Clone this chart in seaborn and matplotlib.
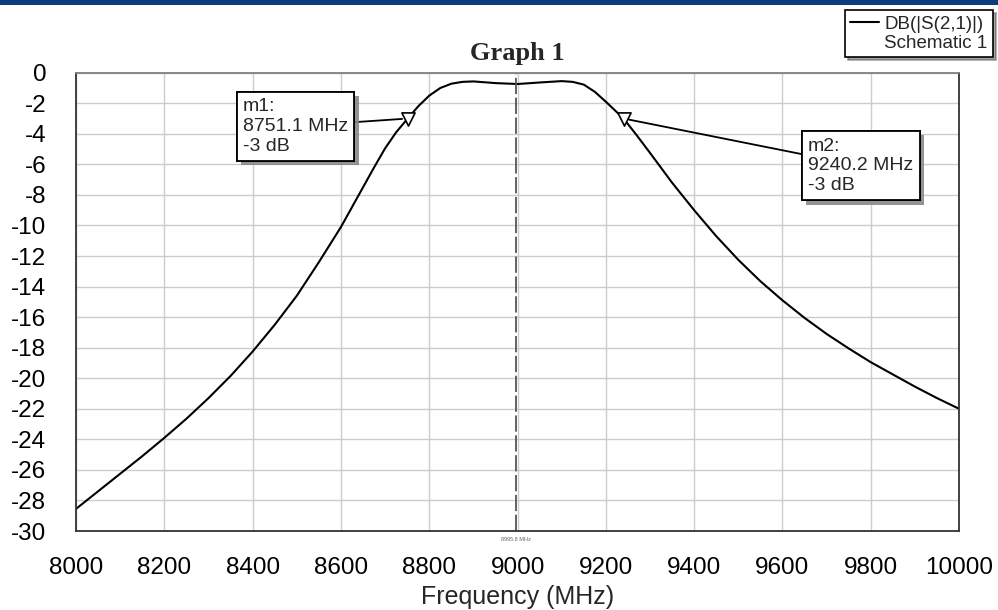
import pandas as pd
import matplotlib
matplotlib.use('Agg')
import matplotlib.pyplot as plt
import matplotlib.patheffects as pe
from matplotlib.lines import Line2D
from matplotlib.patches import Rectangle
import seaborn as sns

sns.set_theme(style='whitegrid')
plt.rcParams['font.family'] = ['Liberation Sans', 'DejaVu Sans']
plt.rcParams['axes.unicode_minus'] = False

# --- datos ---
freq_mhz = [8000, 8050, 8100, 8150, 8200, 8250, 8300, 8350, 8400, 8450, 8500,
            8550, 8600, 8625, 8650, 8675, 8700, 8725, 8751.1, 8775, 8800, 8825,
            8850, 8875, 8900, 8950, 9000, 9050, 9100, 9125, 9150, 9175, 9200,
            9220, 9240.2, 9270, 9300, 9350, 9400, 9450, 9500, 9550, 9600, 9650,
            9700, 9750, 9800, 9850, 9900, 9950, 10000]
s21_db = [-28.55, -27.4, -26.25, -25.1, -23.9, -22.65, -21.3, -19.85, -18.25, -16.5, -14.6,
          -12.4, -10.1, -8.8, -7.5, -6.2, -4.95, -3.9, -3.0, -2.2, -1.5, -1.0,
          -0.72, -0.6, -0.57, -0.68, -0.74, -0.64, -0.55, -0.6, -0.78, -1.25, -1.9,
          -2.45, -3.0, -4.1, -5.25, -7.2, -9.0, -10.7, -12.25, -13.65, -14.9, -16.05,
          -17.1, -18.05, -18.95, -19.75, -20.55, -21.3, -22.0]
marker_freq = [8751.1, 9240.2]
marker_db = [-3, -3]
marker_names = ['m1', 'm2']
marker_text_pos = [(8378, -3.5), (9658, -6.1)]
center_freq = 8995.8

df = pd.DataFrame({'Frequency (MHz)': freq_mhz, 'DB(|S(2,1)|)': s21_db})

fig = plt.figure(figsize=(9.98, 6.10), dpi=100)
ax = fig.add_axes([0.0762, 0.1295, 0.8848, 0.7513])

sns.lineplot(data=df, x='Frequency (MHz)', y='DB(|S(2,1)|)', ax=ax,
             color='black', lw=1.5, legend=False)

ax.set_xlim(8000, 10000)
ax.set_ylim(-30, 0)
ax.set_xticks(range(8000, 10001, 200))
ax.set_yticks(range(-30, 1, 2))
ax.tick_params(axis='both', labelsize=17.5, length=0, colors='black')
ax.tick_params(axis='x', pad=19)
ax.tick_params(axis='y', pad=21.5)
ax.grid(True, color='#cccccc', lw=1)
ax.set_xlabel('Frequency (MHz)', fontsize=18, labelpad=4)
ax.set_ylabel('')
ax.set_title('Graph 1', fontsize=19, fontweight='bold',
             family=['Liberation Serif', 'DejaVu Serif'], pad=9)
for side in ['left', 'bottom', 'right']:
    ax.spines[side].set_color('#333333')
    ax.spines[side].set_linewidth(1.3)
ax.spines['top'].set_color('#808080')
ax.spines['top'].set_linewidth(1.3)

# linea vertical punteada en la frecuencia central
ax.axvline(center_freq, color='#555555', lw=1.3, dashes=(9, 2))
ax.text(center_freq, -30.4, f'{center_freq} MHz', fontsize=4, color='#666666',
        ha='center', va='top')

# marcadores m1 / m2
ax.scatter(marker_freq, marker_db, marker='v', s=90, facecolor='white',
           edgecolor='black', linewidth=1.2, zorder=5)
for name, fx, fy, (tx, ty) in zip(marker_names, marker_freq, marker_db, marker_text_pos):
    t = ax.annotate(f'{name}:\n{fx} MHz\n{fy} dB', xy=(fx, fy), xytext=(tx, ty),
                    ha='left', va='center', fontsize=14, linespacing=1.22,
                    bbox=dict(boxstyle='square,pad=0.32', fc='white', ec='black', lw=1.3),
                    arrowprops=dict(arrowstyle='-', color='black', lw=1.3,
                                    shrinkA=0, shrinkB=4),
                    zorder=6)
    t.get_bbox_patch().set_path_effects([
        pe.withSimplePatchShadow(offset=(3, -3), shadow_rgbFace='#888888', alpha=0.9),
        pe.Normal()])

# leyenda
handles = [Line2D([], [], color='black', lw=1.5), Line2D([], [], color='none')]
leg = fig.legend(handles, ['DB(|S(2,1)|)', 'Schematic 1'], loc='upper right',
                 bbox_to_anchor=(0.995, 0.984), fontsize=13.5, frameon=True,
                 fancybox=False, shadow=True, handlelength=1.5, handletextpad=0.3,
                 labelspacing=0.1, borderpad=0.3, borderaxespad=0)
leg.get_frame().set_edgecolor('black')
leg.get_frame().set_linewidth(1.2)

# franja azul superior
fig.add_artist(Rectangle((0, 1 - 5 / 610), 1, 5 / 610, transform=fig.transFigure,
                         color='#0b3c7d', lw=0))

plt.savefig('out.png', dpi=100)
plt.close()
